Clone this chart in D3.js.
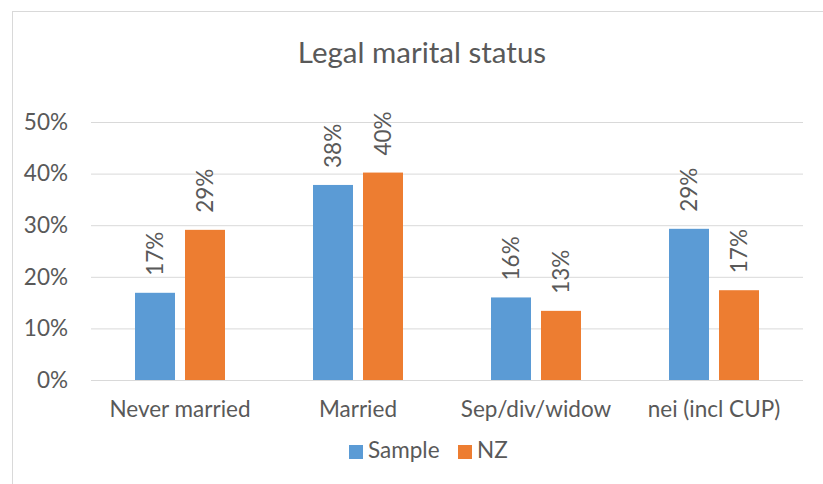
<!DOCTYPE html>
<html>
<head>
<meta charset="utf-8">
<script src="https://cdn.jsdelivr.net/npm/d3@7"></script>
<style>
  body { margin: 0; background: #fff; }
  svg { display: block; font-family: Lato, "Open Sans", sans-serif; }
</style>
</head>
<body>
<svg id="chart" width="823" height="484"></svg>
<script>
// data
var categories = ["Never married", "Married", "Sep/div/widow", "nei (incl CUP)"];
var seriesNames = ["Sample", "NZ"];
var sampleValues = [0.169, 0.378, 0.160, 0.293];
var nzValues = [0.291, 0.402, 0.134, 0.174];
var yTicks = [0, 0.1, 0.2, 0.3, 0.4, 0.5];
var colors = ["#5B9BD5", "#ED7D31"];
var textColor = "#595959";
var fs = 22.5;

var svg = d3.select("#chart");

// chart frame (runs off the right and bottom edges)
svg.append("rect")
    .attr("x", 12.5).attr("y", 11.5)
    .attr("width", 900).attr("height", 600)
    .attr("fill", "none")
    .attr("stroke", "#d9d9d9");

svg.append("text")
    .attr("x", 422).attr("y", 63)
    .attr("text-anchor", "middle")
    .attr("font-size", 29.5)
    .attr("fill", textColor)
    .text("Legal marital status");

var x = d3.scaleBand().domain(categories).range([91, 803]);
var xSub = d3.scaleBand().domain(seriesNames).range([0, x.bandwidth()])
    .paddingInner(0.2).paddingOuter(0.88);
var y = d3.scaleLinear().domain([0, 0.5]).range([380, 122]);
var pct = d3.format(".0%");

// gridlines + y labels
var yAxis = svg.append("g")
    .attr("transform", "translate(91,0)")
    .call(d3.axisLeft(y).tickValues(yTicks).tickFormat(pct).tickSize(-712).tickPadding(23));
yAxis.select(".domain").remove();
yAxis.selectAll(".tick line").attr("stroke", "#d9d9d9").attr("stroke-width", 1);
yAxis.selectAll(".tick text")
    .attr("font-size", fs)
    .attr("font-family", "Lato, sans-serif")
    .attr("fill", textColor);

var rows = categories.map(function (c, i) {
    return { cat: c, vals: [sampleValues[i], nzValues[i]] };
});

var groups = svg.selectAll(".grp")
    .data(rows)
    .enter().append("g")
    .attr("class", "grp")
    .attr("transform", function (d) { return "translate(" + x(d.cat) + ",0)"; });

var cells = groups.selectAll(".cell")
    .data(function (d) {
        return d.vals.map(function (v, j) { return { name: seriesNames[j], v: v, j: j }; });
    })
    .enter().append("g")
    .attr("class", "cell");

cells.append("rect")
    .attr("x", function (d) { return xSub(d.name); })
    .attr("y", function (d) { return y(d.v); })
    .attr("width", xSub.bandwidth())
    .attr("height", function (d) { return y(0) - y(d.v); })
    .attr("fill", function (d) { return colors[d.j]; });

cells.append("text")
    .attr("transform", function (d) {
        var cx = xSub(d.name) + xSub.bandwidth() / 2;
        return "translate(" + cx + "," + (y(d.v) - 17) + ") rotate(-90)";
    })
    .attr("dy", "0.35em")
    .attr("font-size", fs)
    .attr("fill", textColor)
    .text(function (d) { return pct(d.v); });

// category labels
svg.selectAll(".cat")
    .data(categories)
    .enter().append("text")
    .attr("class", "cat")
    .attr("x", function (d) { return x(d) + x.bandwidth() / 2; })
    .attr("y", 417)
    .attr("text-anchor", "middle")
    .attr("font-size", fs)
    .attr("fill", textColor)
    .text(function (d) { return d; });

// legend
var legendX = [349, 458];
var legend = svg.selectAll(".leg")
    .data(seriesNames)
    .enter().append("g")
    .attr("class", "leg")
    .attr("transform", function (d, i) { return "translate(" + legendX[i] + ",445)"; });
legend.append("rect")
    .attr("width", 14).attr("height", 14)
    .attr("fill", function (d, i) { return colors[i]; });
legend.append("text")
    .attr("x", 19).attr("y", 13)
    .attr("font-size", fs)
    .attr("fill", textColor)
    .text(function (d) { return d; });
</script>
</body>
</html>
